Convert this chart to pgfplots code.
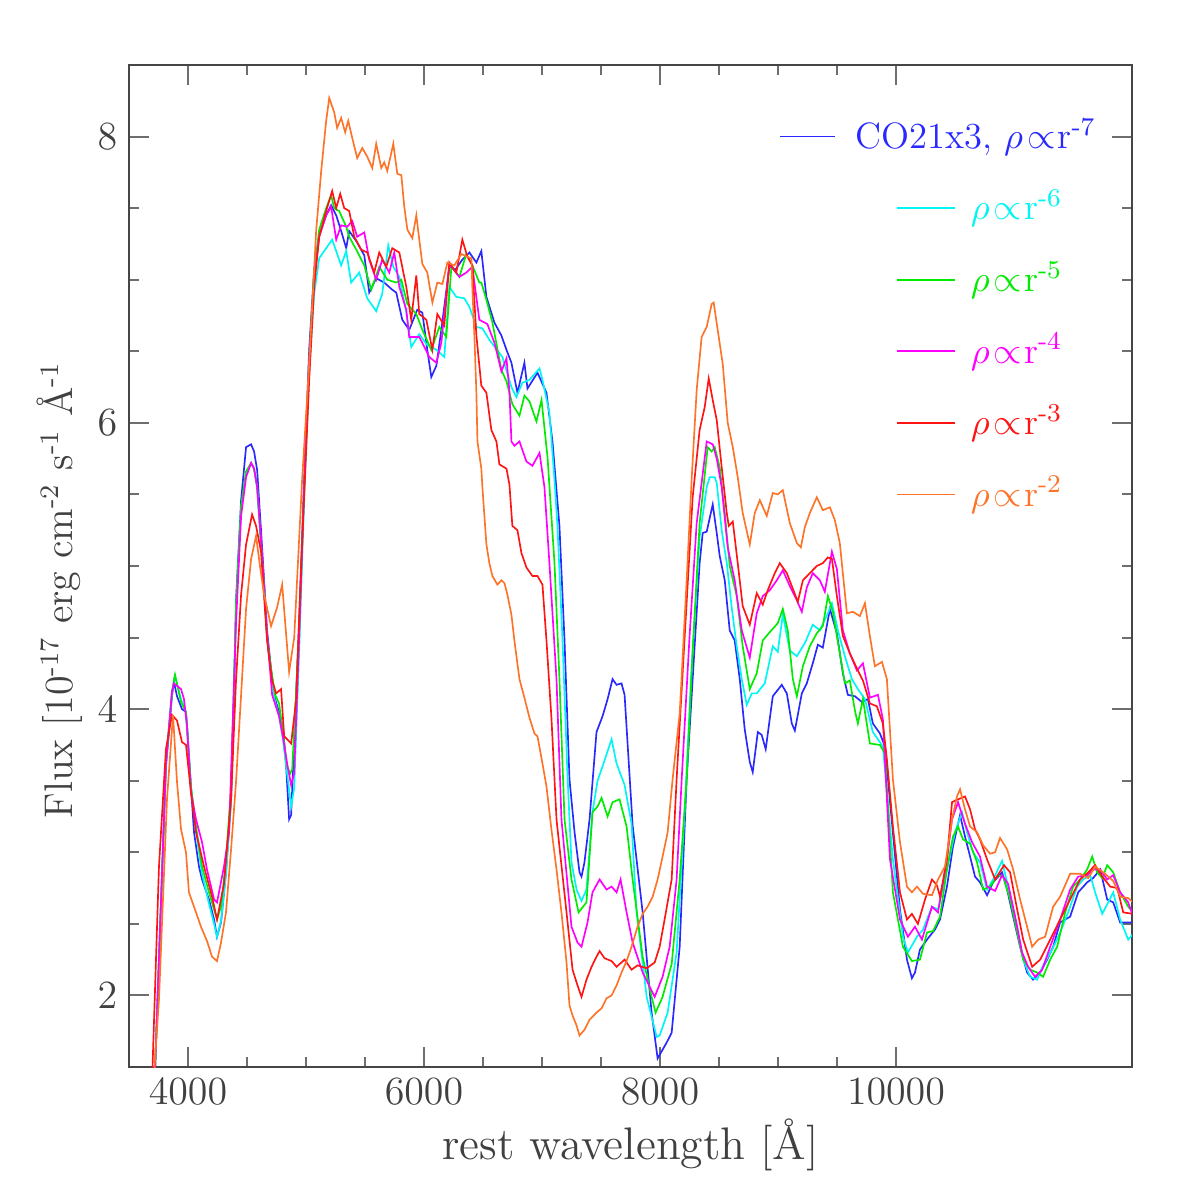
\documentclass[border=0pt]{standalone}
\usepackage{pgfplots}
\pgfplotsset{compat=1.18}
\definecolor{cB}{RGB}{40,40,255}
\definecolor{cC}{RGB}{0,245,245}
\definecolor{cG}{RGB}{0,235,0}
\definecolor{cM}{RGB}{255,0,255}
\definecolor{cR}{RGB}{255,20,20}
\definecolor{cO}{RGB}{255,115,40}
\definecolor{frame}{RGB}{70,70,70}
\definecolor{tickc}{RGB}{110,110,110}
\newcommand{\rholeg}[1]{$\rho\mkern2mu{\propto}\mkern1mu$r\textsuperscript{-#1}}
\newcommand{\sups}[1]{\textsuperscript{-#1}}
\begin{document}
\begin{tikzpicture}
\useasboundingbox (-38.7pt,-38.7pt) rectangle (320.1pt,320.1pt);
\begin{axis}[
  scale only axis, width=300.9pt, height=300.6pt,
  xmin=3500, xmax=12000, ymin=1.5, ymax=8.5,
  xtick={4000,6000,8000,10000}, minor x tick num=3,
  ytick={2,4,6,8}, minor y tick num=3,
  scaled x ticks=false,
  major tick length=6pt, minor tick length=3pt,
  tick style={tickc, line width=0.6pt},
  axis line style={frame, line width=0.7pt},
  x tick label style={/pgf/number format/1000 sep={}},
  tick label style={font=\fontsize{11.5}{13}\selectfont, text=black!75},
  every axis x label/.style={at={(axis description cs:0.5,-0.078)},anchor=center,font=\fontsize{13.7}{16}\selectfont, text=black!75},
  every axis y label/.style={at={(axis description cs:-0.069,0.476)},rotate=90,anchor=center,font=\fontsize{12}{14}\selectfont, text=black!75},
  xlabel={rest wavelength [\AA]},
  ylabel={Flux [10\sups{17} erg cm\sups{2} s\sups{1} \AA\sups{1}},
  every axis plot/.append style={line width=0.5pt},
  clip mode=individual,
]
% blue CO21x3
\addplot[cB] coordinates {
(3700,1.0)(3813,3.60)(3839,3.84)(3864,4.09)(3881,4.19)(3907,4.09)(3949,4.00)(3983,3.98)(3992,3.88)(4025,3.46)(4051,3.14)(4093,2.90)(4119,2.81)(4178,2.67)(4221,2.53)(4246,2.41)(4280,2.51)(4322,2.86)(4365,3.37)(4390,4.07)(4407,4.76)(4450,5.46)(4492,5.83)(4535,5.85)(4560,5.80)(4586,5.67)(4619,5.25)(4645,4.90)(4670,4.55)(4704,4.28)(4738,4.07)(4772,3.98)(4806,3.86)(4832,3.60)(4857,3.23)(4874,3.26)(4908,3.93)(4942,4.62)(4984,5.60)(5027,6.51)(5069,7.07)(5112,7.31)(5171,7.45)(5213,7.52)(5256,7.45)(5298,7.34)(5341,7.22)(5366,7.34)(5426,7.27)(5494,7.17)(5536,6.91)(5595,7.01)(5663,6.98)(5731,6.93)(5765,6.91)(5816,6.72)(5875,6.65)(5943,6.79)(5986,6.77)(6028,6.51)(6062,6.32)(6105,6.40)(6147,6.65)(6215,7.09)(6266,7.07)(6325,7.14)(6385,7.19)(6444,7.12)(6486,7.20)(6529,6.88)(6597,6.70)(6656,6.61)(6699,6.51)(6741,6.42)(6792,6.21)(6851,6.42)(6877,6.24)(6962,6.35)(7038,6.21)(7089,5.87)(7148,5.28)(7191,4.48)(7233,3.51)(7276,3.14)(7318,2.86)(7335,2.83)(7360,2.93)(7403,3.23)(7462,3.84)(7513,3.95)(7556,4.07)(7598,4.21)(7632,4.17)(7674,4.18)(7700,4.10)(7768,3.19)(7853,2.58)(7929,1.88)(7980,1.56)(8056,1.67)(8099,1.74)(8167,2.34)(8226,3.51)(8277,4.21)(8336,5.02)(8362,5.23)(8396,5.24)(8447,5.43)(8481,5.23)(8506,5.07)(8549,4.90)(8591,4.55)(8633,4.48)(8676,4.21)(8718,3.86)(8761,3.63)(8786,3.56)(8829,3.84)(8862,3.82)(8896,3.72)(8956,4.09)(9032,4.17)(9075,4.11)(9117,3.90)(9143,3.85)(9202,4.11)(9244,4.18)(9295,4.32)(9338,4.45)(9380,4.43)(9440,4.70)(9499,4.53)(9550,4.25)(9592,4.10)(9652,4.09)(9711,4.05)(9762,4.07)(9804,3.90)(9864,3.83)(9906,3.74)(9932,3.51)(10034,2.60)(10093,2.25)(10135,2.12)(10161,2.16)(10203,2.32)(10263,2.39)(10330,2.46)(10373,2.53)(10432,2.76)(10483,3.04)(10543,3.26)(10585,3.11)(10628,2.97)(10670,2.83)(10712,2.79)(10772,2.70)(10823,2.79)(10899,2.86)(10942,2.74)(10993,2.55)(11052,2.34)(11111,2.16)(11162,2.11)(11222,2.16)(11281,2.25)(11332,2.34)(11391,2.51)(11476,2.55)(11544,2.72)(11620,2.79)(11671,2.82)(11731,2.88)(11790,2.67)(11841,2.65)(11900,2.51)(12010,2.51)
};
% cyan
\addplot[cC] coordinates {
(3700,1.0)(3813,3.62)(3864,4.12)(3890,4.23)(3941,4.07)(3983,3.98)(4025,3.46)(4068,3.15)(4119,2.85)(4178,2.64)(4221,2.50)(4246,2.41)(4280,2.52)(4322,2.85)(4365,3.35)(4407,4.70)(4450,5.40)(4492,5.65)(4535,5.72)(4560,5.68)(4586,5.55)(4619,5.15)(4645,4.85)(4670,4.50)(4704,4.25)(4738,4.05)(4772,3.95)(4806,3.78)(4840,3.55)(4874,3.32)(4900,3.45)(4942,4.40)(4984,5.45)(5027,6.35)(5069,6.90)(5112,7.15)(5171,7.22)(5222,7.28)(5298,7.10)(5341,7.20)(5383,6.98)(5451,7.05)(5519,6.87)(5595,6.78)(5646,6.90)(5697,7.24)(5740,7.09)(5791,7.02)(5850,6.77)(5892,6.53)(5960,6.62)(6020,6.55)(6105,6.51)(6172,6.46)(6215,6.95)(6274,6.88)(6342,6.87)(6385,6.81)(6444,6.67)(6495,6.66)(6554,6.58)(6665,6.46)(6741,6.25)(6783,6.18)(6834,6.28)(6894,6.30)(6979,6.38)(7004,6.30)(7063,6.07)(7106,5.60)(7131,5.28)(7174,4.48)(7216,3.54)(7250,2.93)(7293,2.74)(7335,2.66)(7377,2.74)(7428,3.28)(7471,3.50)(7513,3.60)(7590,3.79)(7632,3.62)(7700,3.47)(7759,3.20)(7802,2.58)(7887,1.99)(7972,1.71)(7997,1.72)(8065,1.88)(8141,2.30)(8209,3.28)(8268,4.30)(8336,5.20)(8396,5.55)(8421,5.62)(8464,5.62)(8481,5.58)(8523,5.25)(8566,5.02)(8608,4.71)(8650,4.44)(8693,4.21)(8735,4.03)(8778,4.11)(8820,4.11)(8888,4.18)(8956,4.44)(8998,4.40)(9041,4.66)(9100,4.41)(9160,4.37)(9227,4.46)(9295,4.59)(9355,4.55)(9423,4.67)(9457,4.74)(9508,4.55)(9567,4.37)(9626,4.21)(9677,4.14)(9737,4.07)(9804,3.84)(9889,3.74)(9974,2.95)(10059,2.41)(10101,2.30)(10178,2.41)(10229,2.46)(10305,2.62)(10356,2.60)(10432,2.88)(10500,3.14)(10560,3.28)(10602,3.14)(10653,3.00)(10712,2.93)(10772,2.74)(10823,2.81)(10899,2.94)(10950,2.76)(11027,2.48)(11078,2.25)(11137,2.13)(11196,2.11)(11247,2.21)(11323,2.32)(11391,2.44)(11459,2.58)(11535,2.76)(11586,2.81)(11646,2.84)(11688,2.72)(11748,2.57)(11799,2.65)(11841,2.72)(11900,2.53)(11968,2.39)(12010,2.43)
};
% green
\addplot[cG] coordinates {
(3700,1.0)(3813,3.62)(3864,4.12)(3890,4.24)(3941,4.05)(3983,3.98)(4025,3.46)(4068,3.18)(4119,2.90)(4178,2.72)(4221,2.60)(4246,2.53)(4280,2.62)(4322,2.95)(4365,3.45)(4407,4.72)(4450,5.42)(4492,5.66)(4535,5.72)(4560,5.68)(4586,5.55)(4619,5.15)(4645,4.85)(4670,4.50)(4704,4.28)(4738,4.10)(4772,4.04)(4806,3.83)(4840,3.60)(4866,3.55)(4883,3.58)(4942,4.55)(4984,5.55)(5027,6.45)(5069,7.05)(5112,7.35)(5171,7.50)(5213,7.59)(5239,7.50)(5281,7.48)(5341,7.37)(5366,7.30)(5426,7.21)(5494,7.10)(5553,6.93)(5621,7.09)(5689,7.00)(5765,6.98)(5808,7.00)(5859,6.83)(5935,6.76)(5986,6.65)(6062,6.51)(6130,6.67)(6189,6.60)(6232,7.09)(6300,7.02)(6359,7.18)(6410,7.10)(6469,6.98)(6486,6.98)(6529,6.86)(6580,6.70)(6656,6.37)(6699,6.29)(6749,6.13)(6809,6.05)(6851,6.19)(6894,6.15)(6953,6.01)(6996,6.16)(7047,5.76)(7106,5.02)(7148,4.21)(7191,3.23)(7250,2.81)(7310,2.58)(7377,2.65)(7428,3.28)(7471,3.32)(7505,3.38)(7556,3.25)(7598,3.35)(7657,3.37)(7717,3.18)(7768,2.81)(7853,2.27)(7929,1.99)(7963,1.88)(8022,1.99)(8099,2.22)(8167,2.81)(8226,3.51)(8277,4.40)(8336,5.30)(8404,5.83)(8438,5.80)(8464,5.83)(8506,5.69)(8549,5.37)(8591,5.00)(8650,4.79)(8701,4.44)(8761,4.14)(8820,4.25)(8871,4.48)(8922,4.53)(8998,4.60)(9041,4.70)(9083,4.55)(9126,4.21)(9160,4.09)(9211,4.30)(9270,4.44)(9329,4.53)(9380,4.58)(9423,4.79)(9465,4.68)(9524,4.39)(9567,4.18)(9609,4.20)(9652,3.99)(9677,3.90)(9720,4.07)(9779,3.76)(9864,3.75)(9906,3.69)(9974,2.72)(10059,2.34)(10135,2.24)(10203,2.25)(10263,2.44)(10314,2.45)(10373,2.55)(10432,2.88)(10483,3.11)(10526,3.18)(10568,3.09)(10628,3.06)(10687,2.93)(10738,2.74)(10797,2.76)(10865,2.84)(10908,2.83)(10967,2.67)(11027,2.44)(11078,2.25)(11137,2.18)(11196,2.16)(11247,2.13)(11307,2.25)(11366,2.34)(11434,2.58)(11501,2.76)(11561,2.81)(11620,2.88)(11663,2.97)(11705,2.86)(11748,2.82)(11790,2.91)(11841,2.86)(11900,2.72)(11968,2.62)(12010,2.58)
};
% magenta
\addplot[cM] coordinates {
(3700,1.0)(3813,3.62)(3864,4.12)(3881,4.18)(3941,4.14)(3966,4.07)(3992,3.88)(4025,3.42)(4068,3.23)(4119,3.07)(4161,2.88)(4221,2.67)(4246,2.65)(4305,2.90)(4348,3.14)(4407,4.60)(4450,5.35)(4492,5.62)(4535,5.72)(4560,5.68)(4586,5.55)(4619,5.18)(4645,4.85)(4670,4.52)(4713,4.10)(4772,3.95)(4806,3.80)(4840,3.62)(4874,3.47)(4900,3.55)(4942,4.50)(4984,5.55)(5027,6.45)(5069,7.00)(5112,7.30)(5171,7.45)(5213,7.51)(5256,7.28)(5298,7.38)(5349,7.37)(5392,7.41)(5434,7.30)(5494,7.33)(5536,7.14)(5595,7.00)(5646,7.14)(5706,7.05)(5748,7.19)(5791,6.95)(5850,6.79)(5875,6.60)(5960,6.60)(6003,6.53)(6045,6.46)(6105,6.42)(6147,6.56)(6215,7.11)(6300,7.02)(6359,7.05)(6410,7.09)(6469,6.72)(6537,6.69)(6597,6.56)(6656,6.36)(6699,6.45)(6724,6.22)(6741,5.87)(6766,5.84)(6809,5.87)(6868,5.73)(6919,5.70)(6979,5.79)(7021,5.55)(7063,5.02)(7123,4.21)(7165,3.23)(7250,2.48)(7301,2.37)(7335,2.34)(7386,2.51)(7428,2.72)(7488,2.81)(7547,2.74)(7590,2.76)(7632,2.72)(7666,2.81)(7717,2.58)(7768,2.37)(7853,2.16)(7955,1.99)(8022,2.13)(8082,2.34)(8141,2.81)(8184,3.51)(8250,4.50)(8311,5.30)(8396,5.87)(8447,5.85)(8481,5.75)(8523,5.55)(8574,5.13)(8633,4.90)(8693,4.55)(8761,4.36)(8820,4.67)(8871,4.79)(8930,4.83)(8990,4.90)(9041,4.97)(9100,4.86)(9160,4.76)(9202,4.68)(9244,4.85)(9295,4.95)(9355,4.90)(9397,4.82)(9457,5.10)(9499,4.98)(9550,4.55)(9609,4.39)(9669,4.27)(9720,4.32)(9779,4.08)(9847,4.10)(9889,3.93)(9949,2.95)(10034,2.53)(10101,2.41)(10161,2.48)(10220,2.39)(10305,2.62)(10356,2.58)(10432,2.95)(10475,3.23)(10526,3.35)(10585,3.20)(10645,3.07)(10712,2.97)(10772,2.76)(10840,2.73)(10899,2.84)(10950,2.78)(11010,2.55)(11069,2.30)(11120,2.20)(11179,2.13)(11239,2.18)(11307,2.34)(11391,2.53)(11476,2.74)(11544,2.83)(11620,2.84)(11671,2.88)(11731,2.88)(11790,2.81)(11841,2.84)(11900,2.72)(11968,2.65)(12010,2.55)
};
% red
\addplot[cR] coordinates {
(3680,1.0)(3754,2.90)(3813,3.72)(3864,3.96)(3907,3.92)(3949,3.77)(3983,3.75)(4025,3.42)(4068,3.14)(4136,2.90)(4204,2.69)(4246,2.53)(4305,2.78)(4365,3.37)(4407,4.20)(4450,4.80)(4492,5.15)(4543,5.36)(4577,5.28)(4619,5.10)(4670,4.48)(4713,4.20)(4747,4.11)(4789,4.14)(4815,3.81)(4840,3.79)(4874,3.76)(4916,4.06)(4959,5.00)(5027,6.30)(5069,6.95)(5112,7.30)(5171,7.48)(5222,7.62)(5256,7.50)(5290,7.60)(5324,7.50)(5366,7.48)(5409,7.30)(5468,7.21)(5519,7.19)(5578,7.05)(5621,7.19)(5680,7.09)(5731,7.22)(5791,7.19)(5850,6.95)(5892,6.72)(5935,7.03)(5960,6.76)(6020,6.72)(6071,6.51)(6113,6.76)(6172,6.68)(6215,7.12)(6274,7.05)(6325,7.28)(6368,7.16)(6410,7.10)(6444,6.61)(6486,6.26)(6529,6.21)(6571,5.95)(6614,5.87)(6639,5.71)(6699,5.68)(6724,5.57)(6749,5.28)(6792,5.25)(6826,5.09)(6868,4.99)(6919,4.93)(6962,4.93)(7004,4.87)(7038,4.48)(7080,3.94)(7123,3.23)(7208,2.58)(7259,2.18)(7301,2.07)(7335,1.99)(7377,2.11)(7420,2.20)(7462,2.27)(7488,2.31)(7530,2.26)(7590,2.24)(7632,2.20)(7700,2.25)(7759,2.18)(7810,2.21)(7887,2.19)(7955,2.23)(7997,2.34)(8039,2.53)(8099,2.81)(8141,3.51)(8209,4.50)(8277,5.48)(8336,5.95)(8379,6.11)(8413,6.31)(8447,6.16)(8481,6.02)(8523,5.69)(8566,5.37)(8583,5.28)(8617,5.31)(8659,5.02)(8701,4.72)(8761,4.59)(8820,4.81)(8871,4.73)(8913,4.83)(8973,4.95)(9015,5.02)(9075,4.95)(9117,4.86)(9168,4.75)(9211,4.90)(9270,4.95)(9329,5.00)(9380,5.02)(9423,5.06)(9457,5.05)(9499,4.79)(9550,4.51)(9609,4.39)(9677,4.27)(9720,4.20)(9779,4.04)(9838,4.02)(9889,3.90)(9923,3.65)(9974,3.18)(10034,2.72)(10093,2.53)(10135,2.57)(10186,2.50)(10246,2.67)(10305,2.81)(10347,2.77)(10373,2.69)(10432,2.95)(10475,3.35)(10526,3.37)(10585,3.39)(10628,3.30)(10670,3.16)(10712,3.09)(10772,2.95)(10840,2.81)(10916,2.91)(10967,2.86)(11027,2.60)(11078,2.39)(11154,2.20)(11222,2.25)(11307,2.39)(11391,2.53)(11476,2.67)(11561,2.81)(11629,2.86)(11688,2.91)(11748,2.83)(11816,2.76)(11875,2.75)(11926,2.58)(12010,2.57)
};
% orange
\addplot[cO] coordinates {
(3700,1.3)(3754,1.97)(3822,3.37)(3873,3.96)(3907,3.49)(3941,3.16)(3983,3.00)(4008,2.72)(4068,2.58)(4110,2.48)(4161,2.38)(4204,2.27)(4246,2.24)(4280,2.37)(4322,2.58)(4365,3.02)(4407,3.49)(4450,4.10)(4492,4.70)(4535,5.05)(4577,5.21)(4610,5.00)(4645,4.80)(4704,4.58)(4755,4.71)(4798,4.87)(4857,4.26)(4900,4.50)(4967,5.60)(5027,6.41)(5086,7.34)(5129,7.76)(5171,8.11)(5197,8.27)(5239,8.17)(5264,8.06)(5298,8.13)(5332,8.03)(5358,8.11)(5392,7.99)(5434,7.85)(5477,7.92)(5519,7.86)(5562,7.78)(5595,7.95)(5638,7.78)(5663,7.82)(5689,7.76)(5740,7.95)(5774,7.74)(5808,7.73)(5833,7.51)(5859,7.35)(5901,7.29)(5935,7.45)(5960,7.28)(5986,7.11)(6028,7.05)(6071,6.84)(6113,6.98)(6156,6.97)(6198,7.12)(6257,7.10)(6317,7.18)(6368,7.16)(6402,7.15)(6410,6.94)(6427,6.61)(6444,6.21)(6453,5.87)(6486,5.68)(6495,5.55)(6529,5.15)(6554,5.02)(6580,4.93)(6622,4.87)(6656,4.90)(6682,4.88)(6707,4.80)(6741,4.66)(6766,4.48)(6809,4.21)(6851,4.08)(6894,3.94)(6936,3.83)(6962,3.81)(7004,3.62)(7038,3.46)(7080,3.16)(7123,2.88)(7165,2.58)(7208,2.23)(7233,1.93)(7259,1.86)(7293,1.79)(7318,1.72)(7360,1.76)(7403,1.83)(7462,1.88)(7505,1.91)(7547,1.98)(7590,2.00)(7632,2.07)(7674,2.16)(7717,2.24)(7759,2.34)(7810,2.48)(7853,2.57)(7895,2.62)(7938,2.69)(7980,2.81)(8022,2.97)(8065,3.14)(8107,3.51)(8167,3.97)(8226,4.90)(8268,5.60)(8311,6.23)(8353,6.60)(8396,6.67)(8438,6.83)(8455,6.84)(8489,6.65)(8532,6.41)(8574,6.00)(8617,5.83)(8659,5.62)(8701,5.37)(8761,5.15)(8803,5.37)(8846,5.46)(8905,5.35)(8956,5.51)(8998,5.50)(9041,5.53)(9100,5.30)(9160,5.16)(9194,5.13)(9227,5.27)(9270,5.37)(9329,5.48)(9380,5.39)(9440,5.41)(9482,5.32)(9524,5.16)(9584,4.67)(9635,4.68)(9694,4.65)(9737,4.74)(9779,4.51)(9821,4.30)(9881,4.33)(9923,4.21)(9974,3.51)(10034,3.07)(10093,2.76)(10135,2.72)(10178,2.76)(10229,2.71)(10305,2.70)(10356,2.81)(10415,2.90)(10475,3.23)(10517,3.39)(10543,3.44)(10585,3.30)(10628,3.18)(10687,3.14)(10738,3.05)(10797,2.99)(10840,3.00)(10882,3.10)(10942,3.02)(10993,2.88)(11052,2.67)(11111,2.48)(11154,2.34)(11205,2.39)(11264,2.41)(11332,2.62)(11391,2.69)(11476,2.85)(11561,2.85)(11629,2.82)(11688,2.90)(11756,2.86)(11841,2.80)(11900,2.69)(11968,2.68)(12010,2.65)
};
% legend samples
\addplot[cB, forget plot] coordinates {(9015,8.0)(9482,8.0)};
\addplot[cC, forget plot] coordinates {(10008,7.5)(10500,7.5)};
\addplot[cG, forget plot] coordinates {(10008,7.0)(10500,7.0)};
\addplot[cM, forget plot] coordinates {(10008,6.5)(10500,6.5)};
\addplot[cR, forget plot] coordinates {(10008,6.0)(10500,6.0)};
\addplot[cO, forget plot] coordinates {(10008,5.5)(10500,5.5)};
\begin{scope}[every node/.style={anchor=west, inner sep=0pt, font=\fontsize{11}{13}\selectfont}]
\node[text=cB] at (axis cs:9652,8.0) {CO21x3, \rholeg{7}};
\node[text=cC] at (axis cs:10628,7.5) {\rholeg{6}};
\node[text=cG] at (axis cs:10628,7.0) {\rholeg{5}};
\node[text=cM] at (axis cs:10628,6.5) {\rholeg{4}};
\node[text=cR] at (axis cs:10628,6.0) {\rholeg{3}};
\node[text=cO] at (axis cs:10628,5.5) {\rholeg{2}};
\end{scope}
\end{axis}
\end{tikzpicture}
\end{document}
